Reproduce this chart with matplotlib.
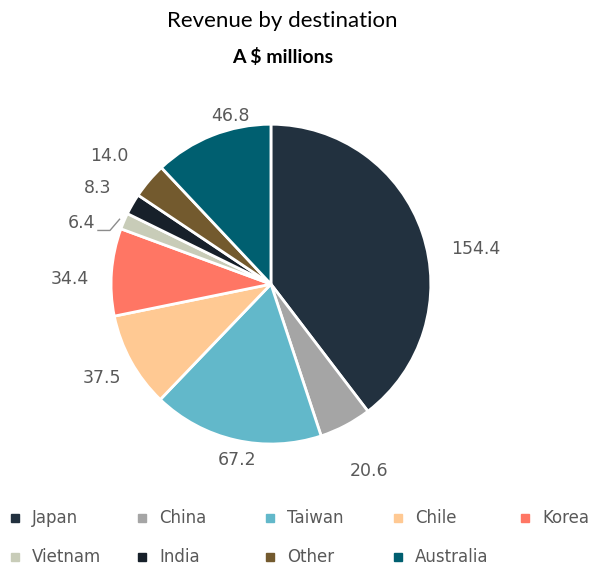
import numpy as np
import matplotlib
matplotlib.use("Agg")
import matplotlib.pyplot as plt
from matplotlib.lines import Line2D

# data
countries = ['Japan', 'China', 'Taiwan', 'Chile', 'Korea',
             'Vietnam', 'India', 'Other', 'Australia']
revenue = [154.4, 20.6, 67.2, 37.5, 34.4, 6.4, 8.3, 14.0, 46.8]
colours = ['#22313F', '#A5A5A5', '#62B8CA', '#FFC993', '#FF7664',
           '#C8CCB8', '#17202A', '#735A2E', '#005F70']

# label placement (radius multiple, angle tweak in degrees)
label_dist = [1.3, 1.32, 1.12, 1.21, 1.26, 1.22, 1.24, 1.29, 1.08]
label_shift = [-9, 0, 2, 0, 3, 0, 1, 2, -8]

label_col = '#595959'

fig = plt.figure(figsize=(5.89, 5.67), dpi=100)
ax = fig.add_axes([0.1205, 0.1464, 0.679, 0.705])

wedges, texts = ax.pie(revenue, colors=colours, startangle=90, counterclock=False,
                       labels=['%.1f' % v for v in revenue],
                       wedgeprops=dict(edgecolor='white', linewidth=2),
                       textprops=dict(color=label_col, fontsize=12.5, family='DejaVu Sans'))
for w, t, d, s in zip(wedges, texts, label_dist, label_shift):
    a = np.deg2rad((w.theta1 + w.theta2) / 2 + s)
    t.set_position((d * np.cos(a), d * np.sin(a)))
    t.set_ha('center')
    t.set_va('center')
ax.set_xlim(-1.25, 1.25)
ax.set_ylim(-1.25, 1.25)

# leader line for the tiny Vietnam slice
w = wedges[5]
ang = np.deg2rad((w.theta1 + w.theta2) / 2)
x0, y0 = 1.03 * np.cos(ang), 1.03 * np.sin(ang)
x1, y1 = x0 - 0.06, y0 - 0.07
x2 = x1 - 0.075
ax.plot([x0, x1, x2], [y0, y1, y1], color='#8c8c8c', lw=1)
texts[5].set_position((x2 - 0.106, y1 + 0.044))

fig.text(0.48, 0.963, 'Revenue by destination', ha='center', va='center',
         fontsize=16, family='Lato', color='black')
fig.text(0.48, 0.9, 'A $ millions', ha='center', va='center',
         fontsize=14, family='Lato', fontweight='bold', color='black')

# legend: fixed grid, 5 per row
col_x = [0.0255, 0.241, 0.458, 0.676, 0.891]
row_y = [0.0864, 0.0185]
for i, (name, c) in enumerate(zip(countries, colours)):
    x, y = col_x[i % 5], row_y[i // 5]
    fig.add_artist(Line2D([x], [y], marker='s', markersize=5.5, linestyle='none',
                          markerfacecolor=c, markeredgecolor=c,
                          transform=fig.transFigure))
    fig.text(x + 0.029, y, name, ha='left', va='center', fontsize=12,
             family='DejaVu Sans', color=label_col)

fig.savefig('out.png', dpi=100)
